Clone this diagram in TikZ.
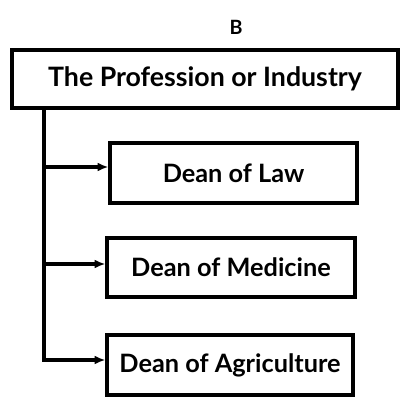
\documentclass[tikz,border=0pt]{standalone}
\usepackage{fontspec}
\setmainfont{Lato}
\usetikzlibrary{arrows.meta}
\tikzset{
  office/.style={draw, line width=2.2pt, minimum height=1.5cm, font=\fontsize{18}{21}\selectfont\bfseries},
  feed/.style={line width=2.2pt, -{Latex[length=0.27cm,width=0.22cm]}}
}

\begin{document}
\begin{tikzpicture}
			%%%%% START %%%%%
			\useasboundingbox (0, 0) rectangle (10.1, 10.15);
			
			\node[font=\fontsize{14}{16}\selectfont\bfseries] (mark) at (5.9, 9.475) {B};
			
			\node[office, minimum width=9.65cm, minimum height=1.45cm, font=\fontsize{19}{22}\selectfont\bfseries] (trade) at (5.125, 8.175) {The Profession or Industry};
			
			\node[office, minimum width=6.175cm] (law) at (5.8375, 5.825) {Dean of Law};
			\node[office, minimum width=6.2cm, minimum height=1.475cm] (medicine) at (5.775, 3.4625) {Dean of Medicine};
			\node[office, minimum width=6.15cm] (agri) at (5.75, 1.025) {Dean of Agriculture};
			
			\coordinate (tap) at (1.1, 8.175);
			\coordinate (j1) at (1.1, 5.975);
			\coordinate (j2) at (1.1, 3.55);
			\coordinate (j3) at (1.1, 1.15);
			
			\draw[line width=2.2pt] (tap |- trade.south) -- (j3);
			\draw[feed] (j1) -- (j1 -| law.west);
			\draw[feed] (j2) -- (j2 -| medicine.west);
			\draw[feed] ([xshift=-1.1pt]j3) -- (j3 -| agri.west);
			%%%%% END %%%%%
		\end{tikzpicture}
\end{document}
